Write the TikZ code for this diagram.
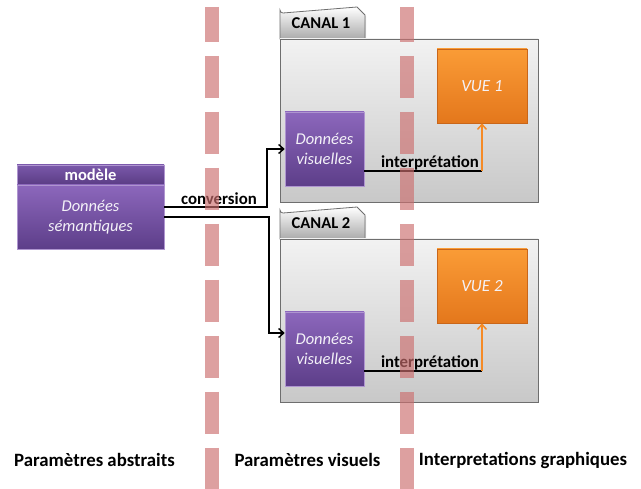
\documentclass[tikz,border=0pt]{standalone}
\usepackage{fontspec}
\setmainfont{Carlito}
\usetikzlibrary{shadows,arrows.meta}
\definecolor{purTop}{HTML}{8C67BC}
\definecolor{purBot}{HTML}{5D3E89}
\definecolor{hdTop}{HTML}{7A58AA}
\definecolor{hdBot}{HTML}{5A3C84}
\definecolor{orTop}{HTML}{FA9C36}
\definecolor{orBot}{HTML}{E4771C}
\definecolor{orEdge}{HTML}{C9661A}
\definecolor{orArrow}{HTML}{F58A26}
\definecolor{grTop}{HTML}{F2F2F2}
\definecolor{grBot}{HTML}{C8C8C8}
\definecolor{grEdge}{HTML}{6E6E6E}
\definecolor{dashcol}{HTML}{CC6E6E}
\definecolor{txtlight}{HTML}{F4F2F8}
\tikzset{
  softshadow/.style={drop shadow={shadow xshift=1pt,shadow yshift=-1.5pt,opacity=0.25}},
  purbox/.style={draw=purTop!70!white,line width=0.6pt,top color=purTop,bottom color=purBot,
    softshadow,align=center,text=txtlight,font=\fontsize{16.5}{20.5}\selectfont\itshape,inner sep=0pt},
  hdbox/.style={draw=purTop!70!white,line width=0.6pt,top color=hdTop,bottom color=hdBot,
    softshadow,text=white,font=\fontsize{16.5}{18}\selectfont\bfseries,inner sep=0pt},
  vuebox/.style={draw=orEdge,line width=0.6pt,top color=orTop,bottom color=orBot,softshadow,
    text=txtlight,font=\fontsize{17}{19}\selectfont\itshape,inner sep=0pt},
  canalbox/.style={draw=grEdge,line width=0.8pt,top color=grTop,bottom color=grBot},
  tabbox/.style={draw=grEdge,line width=0.8pt,top color=white,bottom color=grBot!85!black,softshadow},
  tablabel/.style={font=\fontsize{16.5}{18}\selectfont\bfseries,text=black,inner sep=0pt},
  lbl/.style={font=\fontsize{16.8}{18}\selectfont\bfseries,text=black,inner sep=0pt},
  biglbl/.style={font=\fontsize{18.8}{21}\selectfont\bfseries,text=black,inner sep=0pt},
  conn/.style={draw=black,line width=1.8pt,-{Straight Barb[length=5pt,width=9pt,line width=1.4pt]}},
  plainconn/.style={draw=black,line width=1.8pt},
  orconn/.style={draw=orArrow,line width=2pt,-{Straight Barb[length=5pt,width=9pt,line width=1.5pt]}},
  dashline/.style={draw=dashcol,draw opacity=0.65,line width=14pt,dash pattern=on 42pt off 14pt,line cap=butt}
}
\begin{document}
\begin{tikzpicture}[x=1pt,y=-1pt]
\useasboundingbox (0,0) rectangle (641,489);
\fill[white] (0,0) rectangle (641,489);

% model
\node[hdbox,minimum width=147,minimum height=20] (mh) at (90.5,175) {modèle};
\node[purbox,minimum width=147,minimum height=64] (mb) at (90.5,217) {Données\\sémantiques};

% canal 1
\shade[tabbox] (280,39) -- (280,10) arc[start angle=180,end angle=90,radius=3] -- (357,7) -- (365,15) -- (365,39) -- cycle;
\node[tablabel] (t1) at (321,23) {CANAL 1};
\node[canalbox,minimum width=258,minimum height=163,inner sep=0pt] (c1) at (409,120.5) {};
\node[purbox,minimum width=79,minimum height=74] (dv1) at (324.5,149) {Données\\visuelles};
\node[vuebox,minimum width=90,minimum height=74] (vue1) at (482,86) {VUE 1};

% canal 2
\shade[tabbox] (280,239) -- (280,210) arc[start angle=180,end angle=90,radius=3] -- (357,207) -- (365,215) -- (365,239) -- cycle;
\node[tablabel] (t2) at (321,223) {CANAL 2};
\node[canalbox,minimum width=258,minimum height=163,inner sep=0pt] (c2) at (409,320.5) {};
\node[purbox,minimum width=79,minimum height=74] (dv2) at (324.5,349) {Données\\visuelles};
\node[vuebox,minimum width=90,minimum height=74] (vue2) at (482,286) {VUE 2};

% conversions
\draw[conn] ([yshift=10pt]mb.east) -- ++(103,0) |- (dv1.west);
\draw[conn] (mb.east) -- ++(105,0) |- ([yshift=16pt]dv2.west);
\node[lbl] (conv) at (219,199) {conversion};

% interpretations
\coordinate (k1) at ([yshift=-22pt]dv1.east);
\draw[plainconn] (k1) -- (vue1.south |- k1);
\draw[orconn] (vue1.south |- k1) -- (vue1.south);
\node[lbl] (i1) at (430,163) {interprétation};

\coordinate (k2) at ([yshift=-22pt]dv2.east);
\draw[plainconn] (k2) -- (vue2.south |- k2);
\draw[orconn] (vue2.south |- k2) -- (vue2.south);
\node[lbl] (i2) at (430,363) {interprétation};

% bottom labels
\node[biglbl] (p1) at (94.5,460) {Paramètres abstraits};
\node[biglbl] (p2) at (307.5,460) {Paramètres visuels};
\node[biglbl] (p3) at (523,460) {Interpretations graphiques};

% dashed separators
\draw[dashline,dash phase=7pt] (212,7) -- (212,489);
\draw[dashline,dash phase=7pt] (407,7) -- (407,489);
\end{tikzpicture}
\end{document}
